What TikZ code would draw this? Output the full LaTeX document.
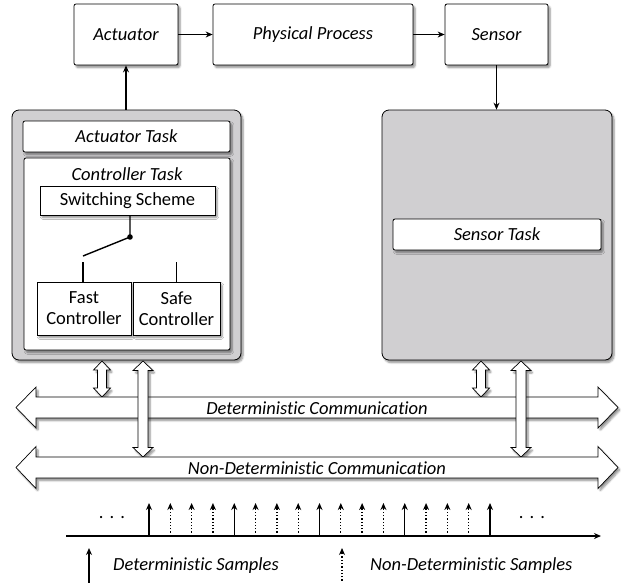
\documentclass[tikz,border=0pt]{standalone}
\usepackage{fontspec}
\setmainfont{Carlito}[Ligatures=NoCommon]
\usetikzlibrary{shadows,shadows.blur,arrows.meta,calc}
\definecolor{boxgray}{RGB}{208,207,209}
\newcommand{\fsz}{\fontsize{18.5}{21}\selectfont}
% vertical double arrow: x, ytop, ybot, shaft half width, head half width, head length
\newcommand{\vdarr}[6]{%
  \draw[bigarrow] (#1,#2) -- (#1+#5,#2+#6) -- (#1+#4,#2+#6) -- (#1+#4,#3-#6) -- (#1+#5,#3-#6) -- (#1,#3)
    -- (#1-#5,#3-#6) -- (#1-#4,#3-#6) -- (#1-#4,#2+#6) -- (#1-#5,#2+#6) -- cycle;}
% horizontal double arrow: xleft, xright, yc, body half height, head half height, head length
\newcommand{\hdarr}[6]{%
  \draw[bigarrow] (#1,#3) -- (#1+#6,#3-#5) -- (#1+#6,#3-#4) -- (#2-#6,#3-#4) -- (#2-#6,#3-#5) -- (#2,#3)
    -- (#2-#6,#3+#5) -- (#2-#6,#3+#4) -- (#1+#6,#3+#4) -- (#1+#6,#3+#5) -- cycle;}
\tikzset{
  sh/.style={blur shadow={shadow xshift=2pt,shadow yshift=-2.5pt,shadow blur steps=6,shadow blur extra rounding=1pt,shadow opacity=45}},
  wbox/.style={draw=black,fill=white,rounded corners=2pt,line width=0.8pt,inner sep=0pt,sh,font=\fsz\itshape},
  ubox/.style={wbox,font=\fsz,align=center},
  gbox/.style={draw=black,fill=boxgray,rounded corners=7pt,line width=0.8pt,inner sep=0pt,sh},
  conn/.style={-{Stealth[length=7pt,width=6pt]},line width=1.1pt},
  bigarrow/.style={draw=black,fill=white,line width=0.7pt,line join=miter,sh},
  lbl/.style={font=\fsz\itshape,inner sep=0pt},
  detsample/.style={-{Stealth[length=7pt,width=6pt]},line width=1.4pt},
  ndsample/.style={-{Stealth[length=7pt,width=6pt]},line width=1.3pt,dotted},
}
\begin{document}
\begin{tikzpicture}[x=1pt,y=-1pt]
\useasboundingbox (0,0) rectangle (629,582);

% top row
\node[wbox,minimum width=104pt,minimum height=61pt] (act) at (126,34.5) {Actuator};
\node[wbox,minimum width=200pt,minimum height=61pt] (proc) at (313,34.5) {Physical Process};
\node[wbox,minimum width=103pt,minimum height=61pt] (sens) at (496.5,34.5) {Sensor};

% big boxes
\node[gbox,minimum width=229pt,minimum height=250pt] (left) at (126.5,235) {};
\node[gbox,minimum width=230pt,minimum height=250pt] (right) at (497,235) {};

% left content
\node[wbox,minimum width=207pt,minimum height=31pt] (acttask) at (126.5,136.5) {Actuator Task};
\node[wbox,minimum width=206pt,minimum height=192pt] (ctrltask) at (127,254) {};
\node[lbl] (ctitle) at (127,174) {Controller Task};
\node[ubox,minimum width=175pt,minimum height=29pt,rounded corners=0pt] (sw) at (127.5,200.5) {Switching Scheme};
\node[ubox,minimum width=94pt,minimum height=53pt,rounded corners=0pt] (fast) at (84,308.5) {Fast\\Controller};
\node[ubox,minimum width=87pt,minimum height=53pt,rounded corners=0pt] (safe) at (176.5,308.5) {Safe\\Controller};

% switch
\coordinate (pivot) at (130,237);
\coordinate (swend) at (83,256);
\coordinate (ftop) at (83,262);
\coordinate (stop) at (176.5,262);
\draw[line width=1.4pt] (sw.south -| pivot) -- (pivot) -- (swend);
\fill (pivot) circle (2.8pt);
\draw[line width=1.3pt] (ftop) -- (fast.north -| ftop);
\draw[line width=1.3pt] (stop) -- (safe.north -| stop);

% right content
\node[wbox,minimum width=208pt,minimum height=31pt] (senstask) at (497,234.5) {Sensor Task};

% top connectors
\draw[conn] (act.east) -- (proc.west);
\draw[conn] (proc.east) -- (sens.west);
\draw[conn] (left.north -| act.south) -- (act.south);
\draw[conn] (sens.south) -- (right.north -| sens.south);

% communication buses
\vdarr{102}{361}{397}{4.5}{8.5}{9}
\vdarr{481}{361}{397}{4.5}{8.5}{9}
\hdarr{16}{618}{407.5}{10.5}{20.5}{20}
\node[lbl] (det) at (317,408) {Deterministic Communication};
\vdarr{143}{361}{457}{5}{10}{9.5}
\vdarr{521}{361}{457}{5}{10}{9.5}
\hdarr{16}{618}{467.5}{10.5}{21}{20}
\node[lbl] (ndet) at (317,468) {Non-Deterministic Communication};

% time axis
\coordinate (ax0) at (66,536);
\coordinate (ax1) at (601,536);
\draw[conn,line width=1.2pt] (ax0) -- (ax1);
\foreach \k in {0,...,16}{
  \pgfmathsetmacro{\xx}{149+21.3125*\k}
  \pgfmathtruncatemacro{\mm}{mod(\k,4)}
  \ifnum\mm=0
    \draw[detsample] (\xx,536) -- (\xx,503);
  \else
    \draw[ndsample] (\xx,536) -- (\xx,503);
  \fi
}
\node[font=\fsz,inner sep=0pt] (dl) at (112,518) {.\,\,.\,\,.};
\node[font=\fsz,inner sep=0pt] (dr) at (532,518) {.\,\,.\,\,.};

% legend
\coordinate (l1a) at (89,584);
\coordinate (l1b) at (89,548);
\coordinate (l2a) at (342,584);
\coordinate (l2b) at (342,548);
\draw[detsample,line width=1.1pt] (l1a) -- (l1b);
\draw[ndsample,line width=1.1pt] (l2a) -- (l2b);
\node[lbl,anchor=west] (dsl) at (113,566) {Deterministic Samples};
\node[lbl,anchor=west] (nsl) at (370,566) {Non-Deterministic Samples};
\end{tikzpicture}
\end{document}
